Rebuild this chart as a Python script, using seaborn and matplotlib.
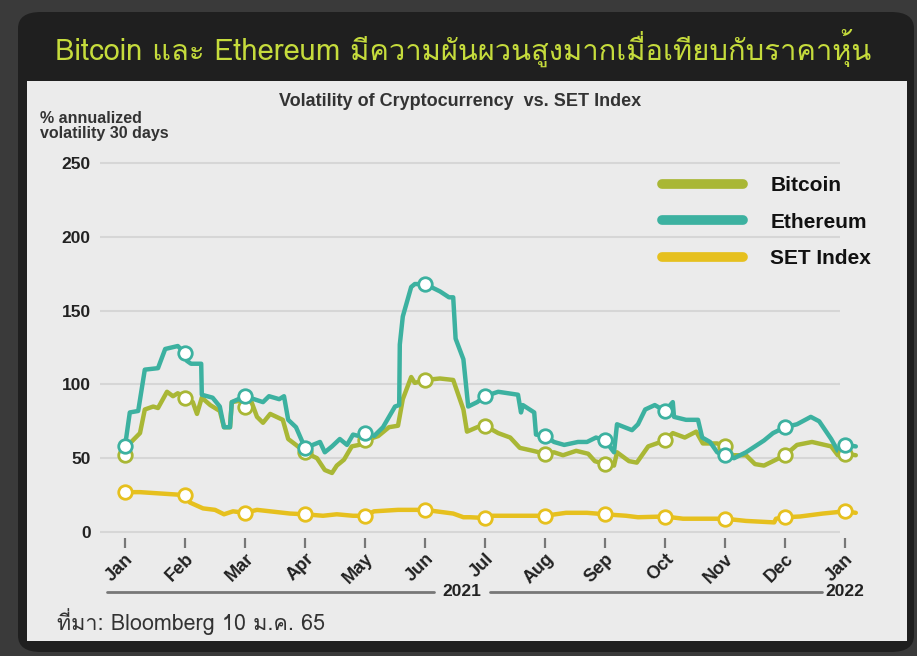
import numpy as np
import pandas as pd
import matplotlib
matplotlib.use("Agg")
import matplotlib.pyplot as plt
import seaborn as sns
from matplotlib import font_manager
from matplotlib.ft2font import FT2Font
from matplotlib.lines import Line2D
from matplotlib.patches import FancyBboxPatch, Rectangle

# month index (0 = Jan 2021, 12 = Jan 2022) and 30-day annualized volatility
bitcoin = [(0, 52), (0.08, 60), (0.25, 67), (0.33, 83), (0.47, 85), (0.55, 84), (0.7, 95),
           (0.8, 92), (0.88, 94), (1.0, 91), (1.13, 88), (1.2, 80), (1.28, 91), (1.42, 86),
           (1.58, 82), (1.65, 71), (1.75, 71), (1.78, 88), (1.92, 89), (2.0, 85), (2.1, 89),
           (2.2, 78), (2.3, 74), (2.42, 80), (2.63, 76), (2.72, 63), (2.85, 59), (3.0, 54),
           (3.2, 50), (3.33, 42), (3.45, 40), (3.53, 45), (3.65, 49), (3.78, 58), (3.9, 59),
           (4.0, 62), (4.22, 65), (4.4, 71), (4.55, 72), (4.63, 90), (4.77, 105), (4.83, 101),
           (5.0, 103), (5.25, 104), (5.47, 103), (5.64, 83), (5.7, 68), (5.87, 71), (6.0, 72),
           (6.22, 67), (6.42, 64), (6.58, 57), (6.8, 55), (7.0, 53), (7.15, 54), (7.3, 52),
           (7.52, 55), (7.72, 53), (7.83, 48), (8.0, 46), (8.15, 45), (8.2, 54), (8.4, 48),
           (8.53, 47), (8.72, 58), (9.0, 62), (9.13, 67), (9.33, 64), (9.52, 68), (9.63, 60),
           (9.87, 60), (10.0, 58), (10.13, 52), (10.35, 52), (10.5, 46), (10.65, 45), (10.8, 48),
           (11.0, 52), (11.2, 59), (11.45, 61), (11.77, 58), (11.88, 52), (12.0, 53), (12.18, 52)]

ethereum = [(0, 58), (0.08, 81), (0.22, 82), (0.33, 110), (0.55, 111), (0.67, 124), (0.88, 126),
            (1.0, 121), (1.03, 116), (1.1, 114), (1.27, 114), (1.28, 93), (1.46, 91), (1.58, 85),
            (1.65, 71), (1.75, 71), (1.78, 88), (2.0, 92), (2.3, 88), (2.4, 92), (2.57, 90),
            (2.65, 92), (2.72, 76), (2.85, 71), (3.0, 57), (3.13, 59), (3.25, 61), (3.33, 54),
            (3.45, 58), (3.58, 63), (3.7, 59), (3.8, 66), (3.9, 65), (4.0, 67), (4.15, 65),
            (4.3, 71), (4.5, 85), (4.57, 86), (4.58, 127), (4.63, 146), (4.77, 166), (4.83, 168),
            (5.0, 168), (5.25, 163), (5.4, 159), (5.47, 159), (5.51, 131), (5.64, 117), (5.72, 85),
            (5.87, 88), (6.0, 92), (6.22, 95), (6.55, 93), (6.6, 81), (6.63, 86), (6.82, 81),
            (6.85, 66), (7.0, 65), (7.15, 61), (7.32, 59), (7.55, 61), (7.7, 61), (7.85, 64),
            (8.0, 62), (8.15, 54), (8.2, 73), (8.45, 69), (8.55, 73), (8.67, 83), (8.83, 86),
            (9.0, 82), (9.13, 88), (9.15, 78), (9.35, 76), (9.55, 76), (9.62, 64), (9.75, 61),
            (9.87, 54), (10.0, 52), (10.15, 50), (10.35, 54), (10.5, 58), (10.65, 62), (10.8, 67),
            (11.0, 71), (11.2, 73), (11.43, 78), (11.57, 75), (11.77, 63), (11.88, 55), (12.0, 59),
            (12.18, 58)]

set_index = [(0, 27), (0.25, 27), (1.0, 25), (1.08, 20), (1.3, 16), (1.5, 15), (1.65, 12),
             (1.8, 14), (2.0, 13), (2.2, 15), (2.42, 14), (2.75, 12.5), (3.0, 12), (3.3, 11),
             (3.53, 12), (3.8, 11), (4.0, 11), (4.15, 14), (4.55, 15), (5.0, 15), (5.47, 12.5),
             (5.64, 10), (5.75, 10), (6.0, 9.5), (6.13, 11), (6.6, 11), (7.0, 11), (7.35, 13),
             (7.7, 13), (8.0, 12), (8.35, 11), (8.55, 10), (9.0, 10.5), (9.3, 9), (9.7, 9),
             (10.0, 9), (10.35, 7.5), (10.82, 6.5), (10.85, 9), (11.0, 10), (11.25, 10.5),
             (11.63, 12.5), (12.0, 14), (12.18, 13)]

series_names = ["Bitcoin", "Ethereum", "SET Index"]
series_colors = ["#a9b735", "#3cb1a0", "#e6c01e"]
month_labels = ["Jan", "Feb", "Mar", "Apr", "May", "Jun", "Jul", "Aug", "Sep", "Oct",
                "Nov", "Dec", "Jan"]
y_ticks = [0, 50, 100, 150, 200, 250]

title_th = "Bitcoin และ Ethereum มีความผันผวนสูงมากเมื่อเทียบกับราคาหุ้น"
source_th = "ที่มา: Bloomberg 10 ม.ค. 65"

# find a font that can draw Thai, fall back to DejaVu
thai_font = None
for f in font_manager.fontManager.ttflist:
    try:
        if 0x0E01 in FT2Font(f.fname).get_charmap():
            thai_font = f.name
            break
    except Exception:
        pass
thai_family = [thai_font, "DejaVu Sans"] if thai_font else ["DejaVu Sans"]

frames = []
for name, pts in zip(series_names, [bitcoin, ethereum, set_index]):
    d = pd.DataFrame(pts, columns=["month", "value"])
    d["series"] = name
    frames.append(d)
df = pd.concat(frames, ignore_index=True)
markers = df[np.isclose(df["month"] % 1, 0)]

sns.set_theme(style="white")
plt.rcParams["font.family"] = ["Liberation Sans", "DejaVu Sans"]

W, H = 917, 656
fig = plt.figure(figsize=(W / 100, H / 100), dpi=100)
fig.patch.set_facecolor("#3a3a3a")

# card: dark title bar and light panel
fig.add_artist(FancyBboxPatch((18 / W, 1 - 652 / H), 896 / W, 640 / H, transform=fig.transFigure,
                              boxstyle="round,pad=0,rounding_size=0.025", fc="#1f1f1f", ec="none",
                              zorder=-3))
fig.add_artist(Rectangle((27 / W, 1 - 641 / H), 880 / W, 560 / H, transform=fig.transFigure,
                         fc="#ebebeb", ec="none", zorder=-2))

fig.text(463 / W, 1 - 48 / H, title_th, color="#c6dc3c", fontsize=21, ha="center", va="center",
         family=thai_family)

x0, x1 = -0.5, 12.4
y0, y1 = -4, 256
ax_left = 95
ax_right = ax_left + (x1 - x0) * 60
py_zero = 532
ppu = 1.476
ax_top = py_zero - y1 * ppu
ax_bot = py_zero - y0 * ppu
ax = fig.add_axes([ax_left / W, 1 - ax_bot / H, (ax_right - ax_left) / W, (ax_bot - ax_top) / H])
ax.set_facecolor("none")

for yt in y_ticks:
    ax.hlines(yt, -0.42, 11.92, color="#d6d6d6", lw=1.5, zorder=0)

sns.lineplot(data=df, x="month", y="value", hue="series", palette=series_colors,
             hue_order=series_names, estimator=None, sort=False, lw=3.2, ax=ax, legend=False,
             zorder=2)
for name, col in zip(series_names, series_colors):
    m = markers[markers["series"] == name]
    ax.scatter(m["month"], m["value"], s=95, facecolor="white", edgecolor=col, lw=2, zorder=3)

ax.set_xlim(x0, x1)
ax.set_ylim(y0, y1)
ax.set_xticks(range(len(month_labels)))
ax.set_xticklabels(month_labels, rotation=45, ha="right", va="top", rotation_mode="anchor",
                   fontsize=13, fontweight="bold", color="#222222")
ax.set_yticks(y_ticks)
ax.set_yticklabels([str(v) for v in y_ticks], fontsize=12.5, fontweight="bold", color="#222222")
ax.tick_params(axis="x", length=7, width=1.6, color="#777777", direction="out", pad=2, bottom=True)
ax.tick_params(axis="y", length=0, pad=3)
ax.set_xlabel("")
ax.set_ylabel("")
sns.despine(ax=ax, left=True, bottom=True)

handles = [Line2D([0], [0], color=c, lw=7, solid_capstyle="round") for c in series_colors]
leg = ax.legend(handles, series_names, loc="upper right", bbox_to_anchor=(1.027, 0.992),
                frameon=False, handlelength=3.9, handletextpad=1.3, labelspacing=0.85,
                prop={"size": 15, "weight": "bold"})
for t in leg.get_texts():
    t.set_color("#111111")

fig.text(460 / W, 1 - 101 / H, "Volatility of Cryptocurrency  vs. SET Index", fontsize=13,
         fontweight="bold", color="#333333", ha="center", va="center")
fig.text(40 / W, 1 - 126 / H, "% annualized\nvolatility 30 days", fontsize=11.5,
         fontweight="bold", color="#333333", ha="left", va="center", linespacing=1.0)

# year bands under the month labels
yy = 1 - 592 / H
fig.add_artist(Line2D([107 / W, 434 / W], [yy, yy], color="#777777", lw=2, transform=fig.transFigure))
fig.add_artist(Line2D([490 / W, 822 / W], [yy, yy], color="#777777", lw=2, transform=fig.transFigure))
fig.text(462 / W, yy, "2021", fontsize=12.5, fontweight="bold", color="#222222", ha="center",
         va="center")
fig.text(845 / W, yy, "2022", fontsize=12.5, fontweight="bold", color="#222222", ha="center",
         va="center")

fig.text(57 / W, 1 - 622 / H, source_th, fontsize=15.5, color="#333333", ha="left", va="center",
         family=thai_family)

fig.savefig("out.png", dpi=100, facecolor=fig.get_facecolor())
